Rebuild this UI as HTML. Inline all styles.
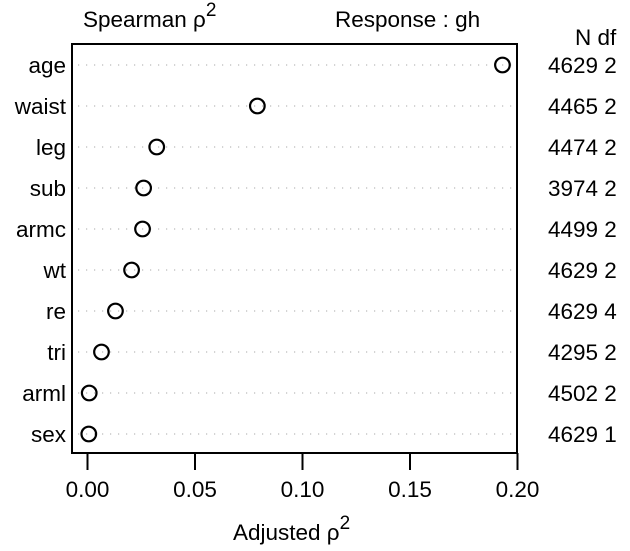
<!DOCTYPE html>
<html><head><meta charset="utf-8"><style>
body{margin:0;background:#fff}
svg text{font-family:"Liberation Sans",sans-serif;fill:#000}
</style></head><body>
<svg id="c" width="630" height="546" font-size="22.5">
<text x="83" y="27">Spearman ρ<tspan dy="-11" font-size="19">2</tspan></text>
<text x="335" y="27">Response : gh</text>
<text x="575" y="45">N  df</text>
<rect x="72" y="44" width="445" height="409" fill="none" stroke="#000" stroke-width="2"/>
<text x="233" y="540">Adjusted ρ<tspan dy="-11" font-size="19">2</tspan></text>
<g id="g"></g>
</svg>
<script>
const categories=["age","waist","leg","sub","armc","wt","re","tri","arml","sex"];
const values=[0.193,0.0790,0.0322,0.0261,0.0256,0.0205,0.0130,0.0065,0.0008,0.0006];
const nLabels=["4629","4465","4474","3974","4499","4629","4629","4295","4502","4629"];
const dfLabels=["2","2","2","2","2","2","4","2","2","1"];
const ticks=[0,0.05,0.10,0.15,0.20];
const tickLabels=["0.00","0.05","0.10","0.15","0.20"];
const xs=v=>87.5+v*2150;
const ys=i=>65+i*41;
const g=document.getElementById('g');
const NS="http://www.w3.org/2000/svg";
function mk(t,a,txt){const e=document.createElementNS(NS,t);for(const k in a)e.setAttribute(k,a[k]);if(txt!=null)e.textContent=txt;g.appendChild(e);return e;}
categories.forEach((c,i)=>{
 const y=ys(i);
 const l=mk('line',{x1:78,x2:512,y1:y,y2:y,stroke:'#bbb','stroke-width':1.2,'stroke-dasharray':'1.2 6.8'});
 
 
 const t=mk('text',{x:66,y:y+8,'text-anchor':'end'},c);
 
 
 const p=mk('circle',{cx:xs(values[i]),cy:y,r:7.3,fill:'none',stroke:'#000','stroke-width':2.2});
 
 
 const n=mk('text',{x:548,y:y+8},nLabels[i]+' '+dfLabels[i]);
 
 
});
ticks.forEach((v,i)=>{
 const x=xs(v);
 const tk=mk('line',{x1:x,x2:x,y1:453,y2:470,stroke:'#000','stroke-width':2});
 
 
 const tl=mk('text',{x:x,y:497,'text-anchor':'middle'},tickLabels[i]);
 
 
});
</script>
</body></html>
